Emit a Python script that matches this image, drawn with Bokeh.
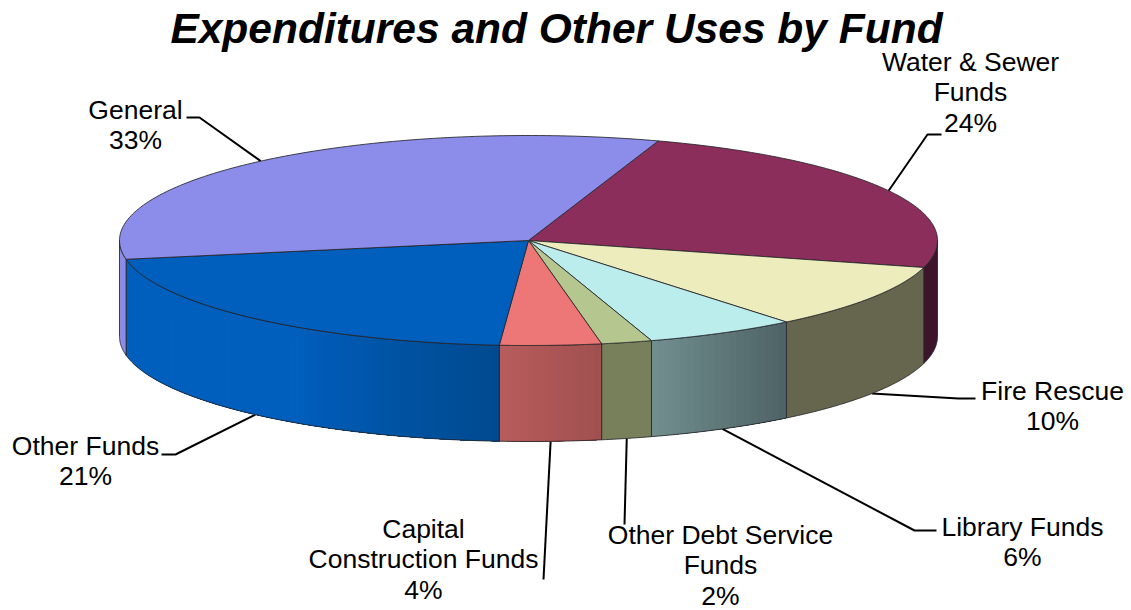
import numpy as np
from bokeh.core.properties import value
from bokeh.embed import file_html
from bokeh.models import Range1d
from bokeh.plotting import figure
from bokeh.resources import INLINE

# Fund shares of expenditures, percent, clockwise from the Water & Sewer slice
funds = ["Water & Sewer\nFunds", "Fire Rescue", "Library Funds", "Other Debt Service\nFunds",
         "Capital\nConstruction Funds", "Other Funds", "General"]
shares = [24, 10, 6, 2, 4, 21, 33]

top_colors = ["#8c2e5c", "#edecbc", "#bbeded", "#b5c78f", "#ed7676", "#005ebd", "#8c8ceb"]
# Rim shading: (fraction across the slice from its right end, colour) stops
rim_stops = [
    [(0, "#3d142b"), (1, "#3d142b")],
    [(0, "#66654e"), (1, "#66654e")],
    [(0, "#4d6266"), (1, "#728f8f")],
    [(0, "#77805a"), (1, "#77805a")],
    [(0, "#a05050"), (1, "#b85c5c")],
    [(0, "#004a90"), (0.28, "#0053a3"), (0.55, "#005ebd"), (1, "#005ebd")],
    [(0, "#8c8ce8"), (1, "#8c8ce8")],
]

# Label centre x and first-line y, then leader elbow points after the rim anchor
label_pos = [(970, 61), (1052, 390), (1022, 526), (720, 534), (423, 528), (85, 445), (135, 109)]
leader_elbows = [
    [(927, 134), (941, 134)],
    [(958, 398), (975, 398)],
    [(914, 530), (936, 530)],
    [(624, 524)],
    [(543, 579)],
    [(175, 454), (161, 454)],
    [(199, 117), (186, 117)],
]

CX, CY, RX, RY, DEPTH = 528, 240, 409, 105, 96
START_DEG = 71.5
LINE_H = 30.5
EDGE = "#26262a"
BAND_PX = 7


def hex_rgb(c):
    return np.array([int(c[i:i + 2], 16) for i in (1, 3, 5)], dtype=float)


def shade(stops, f):
    xs = [s[0] for s in stops]
    rgb = [np.interp(f, xs, [hex_rgb(s[1])[k] for s in stops]) for k in range(3)]
    return "#%02x%02x%02x" % tuple(int(round(v)) for v in rgb)


def ell(a, drop=0.0):
    """Screen position of angle a (degrees, counter-clockwise) on the rim."""
    r = np.radians(a)
    return CX + RX * np.cos(r), CY - RY * np.sin(r) + drop


def wall(a_from, a_to):
    """Outline of the rim section between two angles."""
    arc = np.linspace(a_from, a_to, max(4, int(abs(a_to - a_from) * 2)))
    tx, ty = ell(arc)
    bx, by = ell(arc[::-1], DEPTH)
    return np.r_[tx, bx], np.r_[ty, by]


p = figure(width=1131, height=610, x_range=Range1d(0, 1131), y_range=Range1d(610, 0),
           output_backend="svg", toolbar_location=None, min_border=0,
           x_axis_location=None, y_axis_location=None, background_fill_color="white")
p.outline_line_color = None
p.grid.visible = False

cum = START_DEG - np.cumsum([0] + shares) * 3.6
spans = list(zip(cum[:-1], cum[1:]))

# Leader lines sit behind the pie, starting from each slice's mid-angle on the rim
for (a0, a1), elbows in zip(spans, leader_elbows):
    mid = (a0 + a1) / 2
    # Far-side slices anchor on the top edge, near-side slices on the lower edge
    drop = DEPTH if np.sin(np.radians(mid)) < 0 else 0
    ax, ay = ell(mid, drop)
    p.line([ax] + [e[0] for e in elbows], [ay] + [e[1] for e in elbows],
           line_color="black", line_width=2)

# Rim: the front half of the cylinder, banded by painting narrowing sections over each other
for (a0, a1), stops in zip(spans, rim_stops):
    lo, hi = max(min(a0, a1), -180), min(max(a0, a1), 0)
    if hi <= lo:
        continue
    x_lo, x_hi = ell(lo)[0], ell(hi)[0]
    flat = len({s[1] for s in stops}) == 1
    n = 1 if flat else max(1, int(abs(x_hi - x_lo) / BAND_PX))
    # Angles chosen so the colour bands are even in screen x
    xs = np.linspace(x_lo, x_hi, n + 1)
    edges = -np.degrees(np.arccos(np.clip((xs - CX) / RX, -1, 1)))
    for i in range(n):
        fx = ((xs[i] + xs[i + 1]) / 2 - x_lo) / max(x_hi - x_lo, 1)
        c = shade(stops, 1 - fx)
        wx, wy = wall(edges[i], hi)
        p.patch(wx, wy, fill_color=c, line_color=None)
    wx, wy = wall(lo, hi)
    p.patch(wx, wy, fill_color=None, line_color=EDGE, line_width=1, line_alpha=0.85)

# Top face wedges
for (a0, a1), c in zip(spans, top_colors):
    arc = np.linspace(a0, a1, 120)
    x, y = ell(arc)
    p.patch(np.r_[CX, x], np.r_[CY, y], fill_color=c, line_color=EDGE, line_width=1, line_alpha=0.85)

FONT = value("Liberation Sans")
for name, share, (lx, ly) in zip(funds, shares, label_pos):
    for i, row in enumerate(name.split("\n") + [f"{share}%"]):
        p.text([lx], [ly + i * LINE_H], text=[row], text_font=FONT, text_font_size="26.5px",
               text_color="black", text_align="center", text_baseline="middle")

p.text([556], [28], text=["Expenditures and Other Uses by Fund"], text_font=FONT,
       text_font_size="42.5px", text_font_style="bold italic", text_color="black",
       text_align="center", text_baseline="middle")

open("out.html", "w").write(file_html(p, INLINE))
